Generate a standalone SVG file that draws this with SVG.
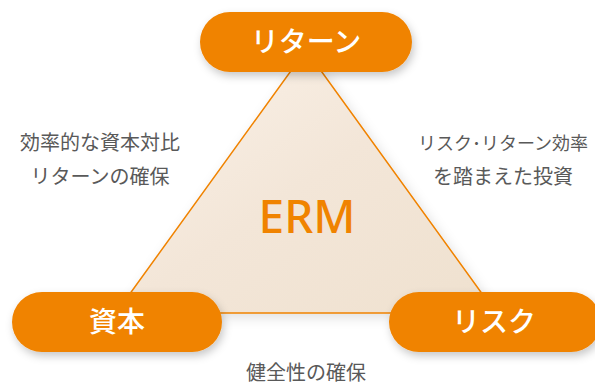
<svg xmlns="http://www.w3.org/2000/svg" width="595" height="385" viewBox="0 0 595 385">
<defs>
<linearGradient id="tri" x1="0" y1="0" x2="1" y2="1">
<stop offset="0" stop-color="#fbf3ea"/>
<stop offset="0.5" stop-color="#f3e6d8"/>
<stop offset="1" stop-color="#efe1cf"/>
</linearGradient>
<filter id="sh" x="-20%" y="-30%" width="140%" height="170%">
<feDropShadow dx="2" dy="4" stdDeviation="4" flood-color="#000" flood-opacity="0.22"/>
</filter>
<filter id="tsh" x="-20%" y="-20%" width="140%" height="140%">
<feDropShadow dx="3" dy="4" stdDeviation="6" flood-color="#000" flood-opacity="0.12"/>
</filter>
</defs>
<style>
.pill{fill:#f08300;filter:url(#sh);}
.pt{fill:#fff;font-family:"Noto Sans CJK JP","Noto Sans",sans-serif;font-size:28px;font-weight:500;text-anchor:middle;}
.lb{fill:#595959;font-family:"Noto Sans CJK JP","Noto Sans",sans-serif;font-size:20px;text-anchor:middle;}
</style>
<rect width="595" height="385" fill="#fff"/>
<g id="connectors">
<polygon points="306,50 116,313 496,313" fill="url(#tri)" stroke="#f08300" stroke-width="1.5" stroke-linejoin="round" filter="url(#tsh)"/>
</g>
<g id="erm">
<text x="307" y="233" fill="#f08300" font-family="'Noto Sans','Open Sans',sans-serif" font-size="46" font-weight="500" text-anchor="middle">ERM</text>
</g>
<g id="node-return">
<rect class="pill" x="200" y="12" width="212" height="60" rx="30"/>
<text class="pt" x="306" y="52">リターン</text>
</g>
<g id="node-capital">
<rect class="pill" x="12" y="292" width="210" height="60" rx="30"/>
<text class="pt" x="117" y="332">資本</text>
</g>
<g id="node-risk">
<rect class="pill" x="389" y="292" width="212" height="60" rx="30"/>
<text class="pt" x="494" y="332">リスク</text>
</g>
<g id="label-left">
<text class="lb" x="100" y="150">効率的な資本対比</text>
<text class="lb" x="100" y="184">リターンの確保</text>
</g>
<g id="label-right">
<text class="lb" x="503" y="150" style="font-size:18px">リスク･リターン効率</text>
<text class="lb" x="503" y="184">を踏まえた投資</text>
</g>
<g id="label-bottom">
<text class="lb" x="306" y="380">健全性の確保</text>
</g>
</svg>
